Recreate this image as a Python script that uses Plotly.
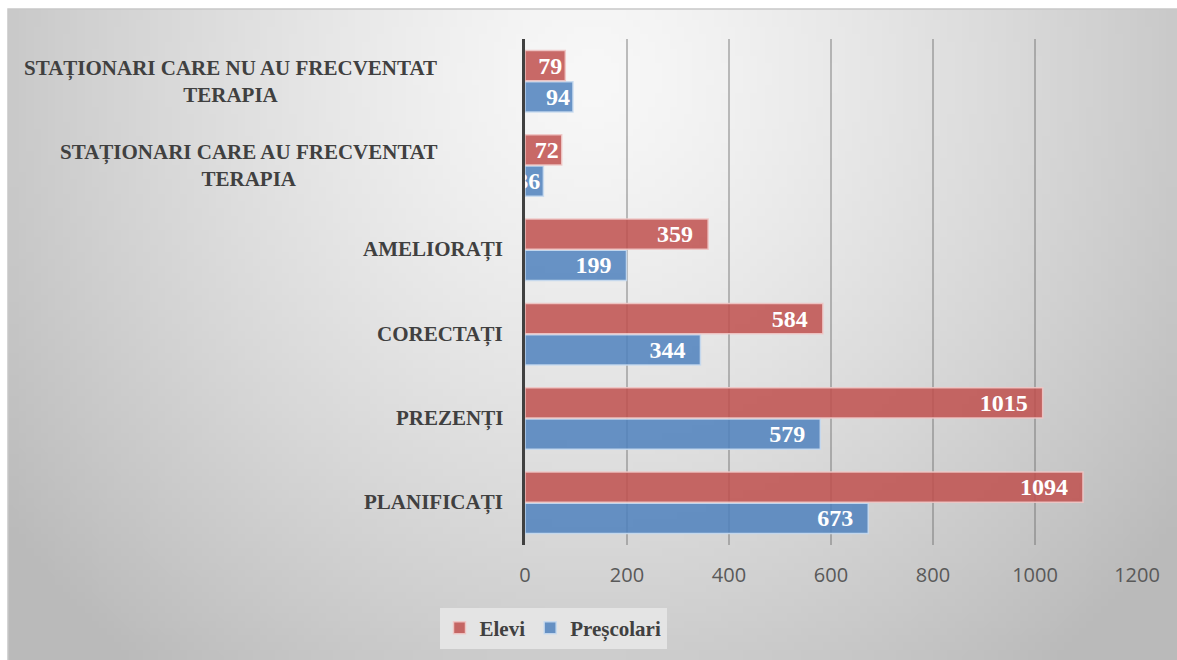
import base64
import struct
import zlib

import numpy as np
import plotly.graph_objs as go

# categories listed bottom -> top (plotly puts the first category at the bottom)
categories = [
    "PLANIFICAȚI",
    "PREZENȚI",
    "CORECTAȚI",
    "AMELIORAȚI",
    "STAȚIONARI CARE AU FRECVENTAT<br>TERAPIA",
    "STAȚIONARI CARE NU AU FRECVENTAT<br>TERAPIA",
]
elevi = [1094, 1015, 584, 359, 72, 79]
prescolari = [673, 579, 344, 199, 36, 94]
x_ticks = [0, 200, 400, 600, 800, 1000, 1200]

SERIF = "Liberation Serif, Times New Roman, serif"


def gradient_png(w=160, h=90):
    """Small grey radial gradient, stretched behind the chart."""
    xs = np.linspace(0, 1, w)
    ys = np.linspace(0, 1, h)
    gx, gy = np.meshgrid(xs, ys)
    d = np.sqrt(((gx - 0.5) / 0.5) ** 2 + ((gy - 0.1) / 0.95) ** 2)
    d = np.clip(d, 0, 1.25)
    g = np.clip(248 - 46 * d ** 1.3, 0, 255).astype(np.uint8)
    rgb = np.stack([g, g, g], axis=-1)
    raw = b"".join(b"\x00" + rgb[r].tobytes() for r in range(h))

    def chunk(tag, data):
        c = struct.pack(">I", len(data)) + tag + data
        return c + struct.pack(">I", zlib.crc32(tag + data) & 0xFFFFFFFF)

    png = b"\x89PNG\r\n\x1a\n"
    png += chunk(b"IHDR", struct.pack(">IIBBBBB", w, h, 8, 2, 0, 0, 0))
    png += chunk(b"IDAT", zlib.compress(raw, 9))
    png += chunk(b"IEND", b"")
    return "data:image/png;base64," + base64.b64encode(png).decode()


def bar_labels(vals):
    # excel style padding at the inner end of the longer bars
    return [f"{v}&nbsp;&nbsp;" if v >= 100 else str(v) for v in vals]


label_font = dict(family=SERIF, size=24, color="white", weight=700)

fig = go.Figure()
fig.add_trace(go.Bar(
    y=categories, x=prescolari, name="<b>Preșcolari</b>", orientation="h",
    marker=dict(color="rgba(79,129,189,0.85)", line=dict(color="rgba(200,218,240,0.9)", width=1.5)),
    text=bar_labels(prescolari), textposition="inside", insidetextanchor="end",
    textangle=0, textfont=label_font, constraintext="none",
))
fig.add_trace(go.Bar(
    y=categories, x=elevi, name="<b>Elevi</b>", orientation="h",
    marker=dict(color="rgba(192,80,77,0.85)", line=dict(color="rgba(240,200,198,0.9)", width=1.5)),
    text=bar_labels(elevi), textposition="inside", insidetextanchor="end",
    textangle=0, textfont=label_font, constraintext="none",
))

# category labels as annotations so wrapped lines stay centred
for cat in categories:
    multi = "<br>" in cat
    fig.add_annotation(
        x=0, y=cat, xref="x", yref="y", text=cat, showarrow=False,
        xanchor="right", align="center", xshift=-86 if multi else -20,
        font=dict(family=SERIF, size=21, color="#404040", weight=700),
    )

W, H = 1177, 660
L, T, R, B = 525, 39, 40, 115
pw, ph = W - L - R, H - T - B

# grey card behind the chart, starting a few px in from the top-left corner
fig.add_layout_image(
    source=gradient_png(), xref="paper", yref="paper",
    x=(8 - L) / pw, y=(H - B - 9) / ph,
    sizex=(W - 8) / pw, sizey=(H - 9) / ph,
    xanchor="left", yanchor="top", sizing="stretch", layer="below",
)
fig.add_shape(
    type="rect", xref="paper", yref="paper",
    x0=(8 - L) / pw, x1=(W + 5 - L) / pw,
    y0=(H - B - (H + 5)) / ph, y1=(H - B - 9) / ph,
    line=dict(color="#c8c8c8", width=1.5), fillcolor="rgba(0,0,0,0)", layer="below",
)

fig.update_layout(
    width=W, height=H,
    margin=dict(l=L, r=R, t=T, b=B),
    paper_bgcolor="white", plot_bgcolor="rgba(0,0,0,0)",
    barmode="group", bargap=0.26, bargroupgap=0.03,
    uniformtext=dict(minsize=24, mode="show"),
    showlegend=True,
    legend=dict(
        orientation="h", traceorder="reversed",
        x=(553 - L) / pw, xanchor="center", y=-(628 - (H - B)) / ph, yanchor="middle",
        bgcolor="#e4e4e4", font=dict(family=SERIF, size=21, color="#404040"),
        itemwidth=30,
    ),
)
fig.update_xaxes(
    range=[0, 1200], tickvals=x_ticks, showgrid=True,
    gridcolor="rgba(100,100,100,0.4)", gridwidth=1.5, zeroline=False,
    tickfont=dict(family="Open Sans, Noto Sans, sans-serif", size=20, color="#595959"),
    ticklabelstandoff=16, fixedrange=True,
)
fig.update_yaxes(
    categoryorder="array", categoryarray=categories,
    showticklabels=False, showline=True, linecolor="#404040", linewidth=3,
    showgrid=False, fixedrange=True,
)

# drop the default page margin so the figure sits at the window corner
fig.write_html(
    "out.html",
    config={"displayModeBar": False},
    post_script="document.body.style.margin='0';",
)
